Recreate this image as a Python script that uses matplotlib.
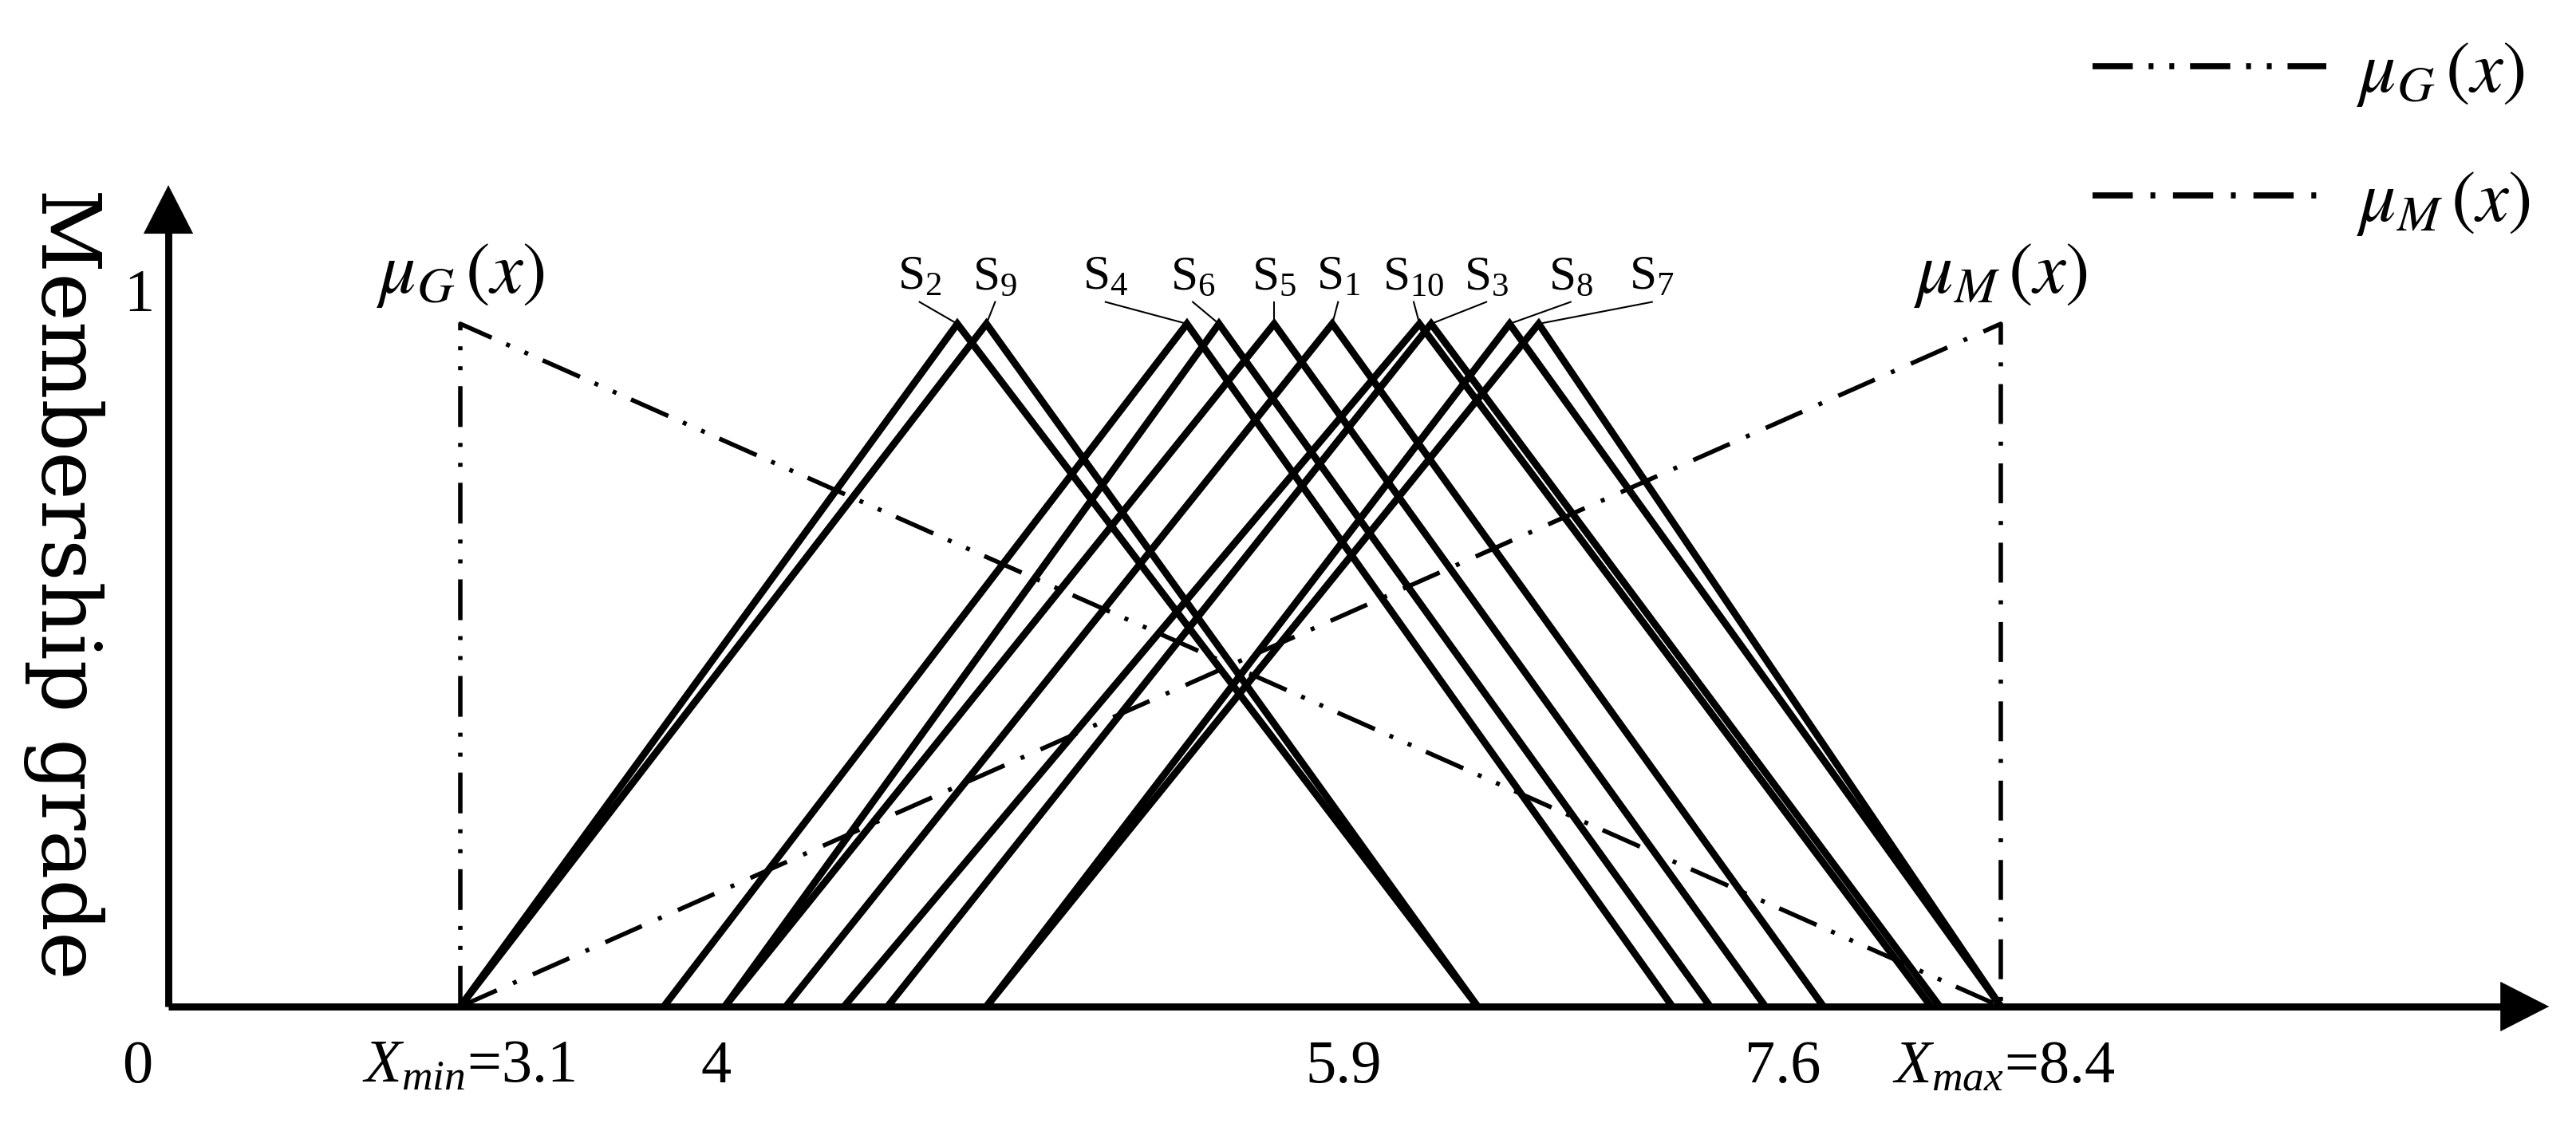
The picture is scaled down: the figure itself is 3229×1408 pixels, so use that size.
import matplotlib
matplotlib.use("Agg")
import matplotlib.pyplot as plt
from matplotlib.lines import Line2D
from matplotlib.patches import ArrowStyle
from matplotlib.font_manager import FontProperties

plt.rcParams['mathtext.fontset'] = 'custom'
plt.rcParams['mathtext.rm'] = 'Liberation Serif'
plt.rcParams['mathtext.it'] = 'Liberation Serif:italic'
plt.rcParams['font.family'] = ['Liberation Serif', 'DejaVu Serif']

# ---------------- data ----------------
x_min = 3.1
x_max = 8.4
names = ['S1', 'S2', 'S3', 'S4', 'S5', 'S6', 'S7', 'S8', 'S9', 'S10']
left = [4.22, 3.10, 4.57, 3.80, 4.01, 4.01, 4.91, 4.91, 3.10, 4.42]
peak = [6.10, 4.81, 6.44, 5.60, 5.90, 5.71, 6.81, 6.71, 4.91, 6.40]
right = [7.79, 6.60, 8.19, 7.27, 7.59, 7.40, 8.40, 8.40, 6.60, 8.16]
peak_height = [1, 1, 1, 1, 1, 1, 1, 1, 1, 1]

mu_G_x = [x_min, x_min, x_max]
mu_G_y = [0, 1, 0]
mu_M_x = [x_min, x_max, x_max]
mu_M_y = [0, 1, 0]

tick_labels = ['0', r'$X_{min}$=3.1', '4', '5.9', '7.6', r'$X_{max}$=8.4']
tick_label_pos = [1.99, 3.13, 3.98, 6.14, 7.65, 8.41]

# label positions (annotation layout)
label_pos = {'S2': 4.68, 'S9': 4.94, 'S4': 5.32, 'S6': 5.62, 'S5': 5.90,
             'S1': 6.12, 'S10': 6.38, 'S3': 6.63, 'S8': 6.92, 'S7': 7.20}

# ---------------- figure ----------------
fig = plt.figure(figsize=(32.3, 14.08), dpi=100)
ax = fig.add_axes([0, 0, 1, 1])
ax.set_xlim(1.5163, 10.3817)
ax.set_ylim(-0.1706, 1.4743)
ax.axis('off')

y_axis_x = 2.0955
x_tip = 10.286
y_tip = 1.203

lw_dash = 4.0
ls_G = (0, (9.2, 3.6, 0.9, 3.6, 0.9, 3.6))
ls_M = (0, (9.0, 4.0, 0.9, 4.0))

ax.plot(mu_G_x, mu_G_y, color='black', lw=lw_dash, ls=ls_G, dash_capstyle='butt')
ax.plot(mu_M_x, mu_M_y, color='black', lw=lw_dash, ls=ls_M, dash_capstyle='butt')

for a, b, c, h in zip(left, peak, right, peak_height):
    ax.plot([a, b, c], [0, h, 0], color='black', lw=6.4,
            solid_joinstyle='miter', solid_capstyle='butt')

# S labels with leader lines
for nm, b, h in zip(names, peak, peak_height):
    lx = label_pos[nm]
    ax.plot([lx, b], [1.032, h], color='black', lw=1.5)
    ax.text(lx, 1.036, r'$\mathrm{S}_{%s}$' % nm[1:], fontsize=44,
            ha='center', va='bottom')

# axes with arrows
ax.plot([y_axis_x, x_tip - 0.1], [0, 0], color='black', lw=6.4, solid_capstyle='butt')
ax.plot([y_axis_x, y_axis_x], [0, y_tip - 0.04], color='black', lw=6.4, solid_capstyle='butt')
arr = ArrowStyle('-|>', head_length=43, head_width=22)
ax.annotate('', xy=(x_tip, 0), xytext=(y_axis_x, 0),
            arrowprops=dict(arrowstyle=arr, mutation_scale=1, lw=0.5,
                            color='black', shrinkA=0, shrinkB=0))
ax.annotate('', xy=(y_axis_x, y_tip), xytext=(y_axis_x, 0),
            arrowprops=dict(arrowstyle=arr, mutation_scale=1, lw=0.5,
                            color='black', shrinkA=0, shrinkB=0))

# tick labels
for lab, pos in zip(tick_labels, tick_label_pos):
    ax.text(pos, -0.089, lab, fontsize=55, ha='center', va='center')
ax.text(1.994, 1.040, '1', fontsize=55, ha='center', va='center')

# curve labels
ax.text(x_min, 1.071, r'$\mu_G\,(x)$', fontsize=66, ha='center', va='center',
        math_fontfamily='stix')
ax.text(x_max, 1.071, r'$\mu_M\,(x)$', fontsize=66, ha='center', va='center',
        math_fontfamily='stix')

# y label
ax.text(1.736, 0.619, 'Membership grade', fontsize=74, family='DejaVu Serif',
        rotation=270, ha='center', va='center')

# legend
handles = [Line2D([], [], color='black', lw=5.5, ls=(0, (6.6, 2.6, 0.8, 2.6, 0.8, 2.6)),
                  dash_capstyle='butt'),
           Line2D([], [], color='black', lw=5.5, ls=(0, (6.6, 2.9, 0.8, 2.9)),
                  dash_capstyle='butt')]
leg = ax.legend(handles, [r'$\mu_G\,(x)$', r'$\mu_M\,(x)$'], loc='upper right',
                bbox_to_anchor=(0.982, 0.964), bbox_transform=fig.transFigure,
                frameon=False, prop=FontProperties(size=66, math_fontfamily='stix'),
                handlelength=3.2, handletextpad=0.4, labelspacing=0.84,
                borderpad=0, borderaxespad=0)

fig.savefig('out.png', dpi=100, facecolor='white')
